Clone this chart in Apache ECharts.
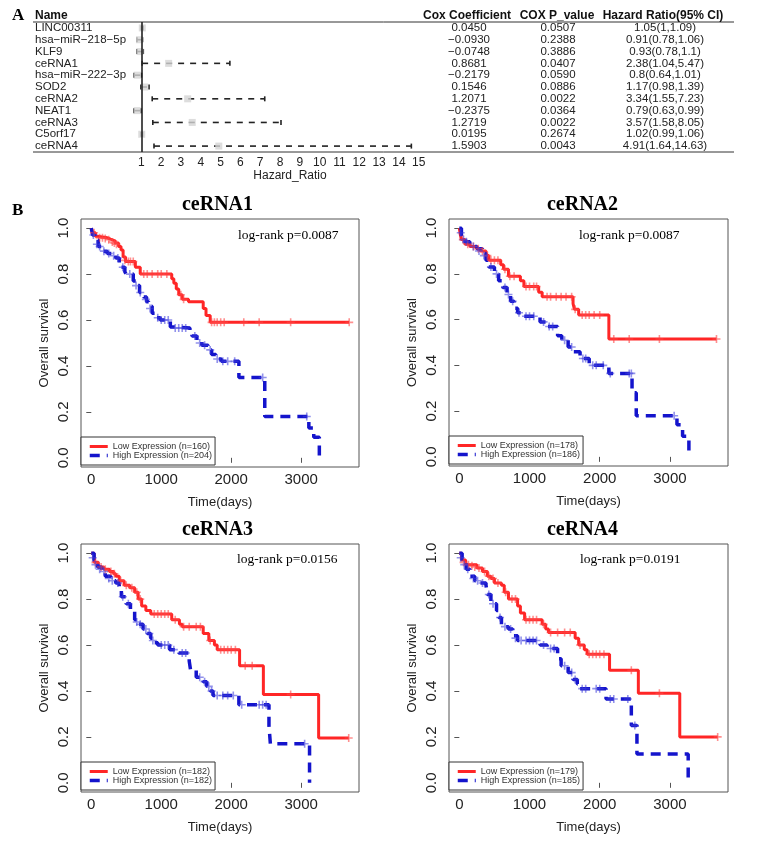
<!DOCTYPE html>
<html>
<head>
<meta charset="utf-8">
<script src="https://cdn.jsdelivr.net/npm/echarts@6/dist/echarts.min.js"></script>
<style>
  html, body { margin: 0; padding: 0; background: #fff; }
  #chart { width: 760px; height: 845px; }
</style>
</head>
<body>
<div id="chart"></div>
<script>
/* A: 多因素 Cox 森林图 */
const geneNames = ['LINC00311', 'hsa−miR−218−5p', 'KLF9', 'ceRNA1', 'hsa−miR−222−3p', 'SOD2', 'ceRNA2', 'NEAT1', 'ceRNA3', 'C5orf17', 'ceRNA4'];
const coxCoef = ['0.0450', '−0.0930', '−0.0748', '0.8681', '−0.2179', '0.1546', '1.2071', '−0.2375', '1.2719', '0.0195', '1.5903'];
const coxP = ['0.0507', '0.2388', '0.3886', '0.0407', '0.0590', '0.0886', '0.0022', '0.0364', '0.0022', '0.2674', '0.0043'];
const hrText = ['1.05(1,1.09)', '0.91(0.78,1.06)', '0.93(0.78,1.1)', '2.38(1.04,5.47)', '0.8(0.64,1.01)', '1.17(0.98,1.39)', '3.34(1.55,7.23)', '0.79(0.63,0.99)', '3.57(1.58,8.05)', '1.02(0.99,1.06)', '4.91(1.64,14.63)'];
const hrValue = [1.05, 0.91, 0.93, 2.38, 0.8, 1.17, 3.34, 0.79, 3.57, 1.02, 4.91];
const ciLow = [1, 0.78, 0.78, 1.04, 0.64, 0.98, 1.55, 0.63, 1.58, 0.99, 1.64];
const ciHigh = [1.09, 1.06, 1.1, 5.47, 1.01, 1.39, 7.23, 0.99, 8.05, 1.06, 14.63];
const hrTicks = [1, 2, 3, 4, 5, 6, 7, 8, 9, 10, 11, 12, 13, 14, 15];

/* B: KM 生存曲线  [time, survival] */
const timeTicks = [0, 1000, 2000, 3000];
const survTicks = [0, 0.2, 0.4, 0.6, 0.8, 1.0];
const panelTitles = ['ceRNA1', 'ceRNA2', 'ceRNA3', 'ceRNA4'];
const logRankText = ['log-rank p=0.0087', 'log-rank p=0.0087', 'log-rank p=0.0156', 'log-rank p=0.0191'];
const lowNames = ['Low Expression (n=160)', 'Low Expression (n=178)', 'Low Expression (n=182)', 'Low Expression (n=179)'];
const highNames = ['High Expression (n=204)', 'High Expression (n=186)', 'High Expression (n=182)', 'High Expression (n=185)'];

const km1Low = [[0,1],[20,0.98],[60,0.965],[90,0.958],[230,0.952],[275,0.945],[340,0.935],[390,0.92],[425,0.905],[455,0.875],[490,0.855],[630,0.83],[700,0.8],[1150,0.78],[1180,0.76],[1215,0.735],[1250,0.71],[1300,0.69],[1390,0.68],[1600,0.65],[1640,0.62],[1700,0.59],[3687,0.59]];
const km1High = [[0,1],[20,0.97],[50,0.95],[100,0.92],[150,0.9],[230,0.89],[290,0.88],[350,0.87],[400,0.85],[430,0.83],[480,0.81],[500,0.8],[600,0.77],[650,0.75],[690,0.72],[750,0.7],[790,0.68],[820,0.66],[870,0.63],[915,0.61],[985,0.6],[1130,0.57],[1175,0.565],[1410,0.54],[1440,0.53],[1510,0.51],[1580,0.49],[1670,0.47],[1720,0.45],[1780,0.43],[1860,0.42],[2110,0.35],[2480,0.18],[3110,0.13],[3180,0.09],[3260,0]];
const km1LowCens = [[40,0.98],[120,0.958],[160,0.958],[200,0.955],[250,0.95],[300,0.94],[330,0.935],[360,0.93],[480,0.86],[530,0.855],[560,0.855],[600,0.855],[750,0.8],[800,0.8],[870,0.8],[950,0.8],[1000,0.8],[1080,0.8],[1280,0.71],[1320,0.69],[1720,0.59],[1760,0.59],[1800,0.59],[1850,0.59],[1900,0.59],[2180,0.59],[2400,0.59],[2850,0.59],[3687,0.59]];
const km1HighCens = [[30,0.97],[80,0.93],[120,0.92],[180,0.9],[250,0.89],[320,0.88],[380,0.87],[450,0.83],[550,0.8],[640,0.75],[700,0.72],[780,0.69],[840,0.65],[950,0.61],[1000,0.6],[1050,0.6],[1100,0.6],[1200,0.565],[1250,0.565],[1300,0.565],[1350,0.565],[1480,0.53],[1550,0.5],[1620,0.49],[1700,0.47],[1800,0.43],[1880,0.42],[1950,0.42],[2050,0.42],[2450,0.35],[3080,0.18]];

const km2Low = [[0,1],[15,0.97],[30,0.95],[80,0.93],[150,0.92],[250,0.91],[300,0.9],[380,0.88],[420,0.86],[590,0.84],[630,0.82],[700,0.79],[870,0.77],[920,0.745],[1130,0.72],[1180,0.7],[1620,0.67],[1640,0.645],[1700,0.62],[2130,0.515],[3663,0.515]];
const km2High = [[0,1],[30,0.96],[80,0.94],[150,0.92],[250,0.91],[330,0.89],[380,0.86],[420,0.83],[500,0.8],[560,0.77],[620,0.74],[680,0.71],[730,0.68],[780,0.65],[830,0.63],[900,0.615],[1150,0.59],[1250,0.57],[1400,0.53],[1460,0.51],[1550,0.48],[1620,0.46],[1720,0.43],[1850,0.4],[2130,0.365],[2460,0.28],[2520,0.18],[3100,0.14],[3180,0.09],[3270,0]];
const km2LowCens = [[50,0.95],[120,0.93],[200,0.92],[270,0.91],[330,0.9],[400,0.88],[450,0.86],[500,0.86],[550,0.86],[650,0.82],[720,0.79],[780,0.79],[950,0.745],[1000,0.745],[1060,0.745],[1100,0.745],[1250,0.7],[1300,0.7],[1380,0.7],[1450,0.7],[1520,0.7],[1600,0.7],[1650,0.645],[1750,0.62],[1800,0.62],[1850,0.62],[1920,0.62],[2000,0.62],[2200,0.515],[2420,0.515],[2850,0.515],[3663,0.515]];
const km2HighCens = [[20,0.98],[60,0.95],[100,0.94],[200,0.92],[280,0.9],[350,0.88],[450,0.83],[530,0.8],[650,0.74],[700,0.71],[760,0.68],[850,0.63],[950,0.615],[1000,0.615],[1060,0.615],[1200,0.59],[1280,0.57],[1330,0.57],[1500,0.51],[1600,0.48],[1760,0.43],[1800,0.43],[1900,0.4],[1950,0.4],[2050,0.4],[2150,0.365],[2420,0.365],[2450,0.365],[3060,0.18]];

const km3Low = [[0,1],[40,0.96],[100,0.94],[180,0.93],[260,0.92],[320,0.91],[350,0.9],[400,0.88],[470,0.86],[550,0.85],[620,0.83],[670,0.8],[720,0.77],[780,0.75],[850,0.735],[1150,0.71],[1260,0.69],[1300,0.68],[1600,0.65],[1680,0.62],[1760,0.6],[1800,0.58],[2120,0.51],[2460,0.385],[3250,0.195],[3680,0.195]];
const km3High = [[0,1],[40,0.97],[90,0.94],[150,0.92],[200,0.9],[280,0.88],[350,0.87],[400,0.84],[430,0.81],[500,0.78],[560,0.75],[620,0.71],[680,0.69],[740,0.67],[800,0.65],[850,0.63],[900,0.61],[950,0.6],[1120,0.58],[1250,0.565],[1400,0.53],[1420,0.49],[1500,0.46],[1600,0.44],[1650,0.42],[1700,0.4],[1740,0.38],[2110,0.34],[2540,0.25],[2560,0.17],[3120,0]];
const km3LowCens = [[60,0.96],[140,0.94],[200,0.93],[280,0.92],[330,0.91],[420,0.88],[500,0.86],[580,0.85],[650,0.83],[700,0.8],[900,0.735],[950,0.735],[1000,0.735],[1050,0.735],[1100,0.735],[1200,0.71],[1320,0.68],[1400,0.68],[1500,0.68],[1560,0.68],[1700,0.62],[1850,0.58],[1900,0.58],[1950,0.58],[2000,0.58],[2060,0.58],[2200,0.51],[2300,0.51],[2850,0.385],[3680,0.195]];
const km3HighCens = [[20,0.98],[60,0.95],[120,0.93],[180,0.92],[250,0.89],[300,0.88],[380,0.87],[450,0.81],[530,0.78],[650,0.7],[700,0.69],[780,0.67],[830,0.65],[880,0.62],[1000,0.6],[1050,0.6],[1100,0.6],[1180,0.58],[1300,0.565],[1350,0.565],[1550,0.46],[1620,0.44],[1680,0.42],[1720,0.4],[1800,0.38],[1880,0.38],[1950,0.38],[2030,0.38],[2150,0.34],[2400,0.34],[2450,0.34],[2500,0.34],[3050,0.17]];

const km4Low = [[0,1],[30,0.97],[90,0.95],[250,0.935],[330,0.92],[400,0.9],[450,0.89],[500,0.87],[600,0.86],[640,0.83],[700,0.8],[830,0.77],[870,0.74],[930,0.71],[1180,0.69],[1230,0.67],[1270,0.655],[1650,0.63],[1700,0.6],[1780,0.58],[1820,0.56],[2140,0.49],[2550,0.39],[3140,0.2],[3680,0.2]];
const km4High = [[0,1],[40,0.96],[100,0.93],[150,0.9],[220,0.88],[300,0.87],[380,0.86],[400,0.82],[450,0.78],[530,0.75],[560,0.72],[600,0.68],[700,0.67],[760,0.64],[830,0.62],[1150,0.6],[1250,0.585],[1400,0.54],[1450,0.51],[1550,0.48],[1620,0.45],[1680,0.43],[1720,0.41],[2090,0.365],[2450,0.25],[2530,0.125],[3260,0]];
const km4LowCens = [[60,0.96],[130,0.95],[180,0.945],[220,0.94],[280,0.935],[360,0.92],[420,0.9],[480,0.89],[550,0.87],[660,0.83],[750,0.8],[800,0.8],[950,0.71],[1000,0.71],[1050,0.71],[1100,0.71],[1200,0.69],[1300,0.655],[1400,0.655],[1500,0.655],[1580,0.655],[1720,0.6],[1850,0.56],[1900,0.56],[1950,0.56],[2000,0.56],[2060,0.56],[2450,0.49],[2850,0.39],[3680,0.2]];
const km4HighCens = [[20,0.98],[70,0.95],[120,0.93],[200,0.89],[260,0.88],[330,0.87],[420,0.82],[480,0.78],[580,0.72],[650,0.68],[730,0.67],[800,0.63],[880,0.62],[950,0.62],[1000,0.62],[1050,0.62],[1100,0.62],[1200,0.6],[1300,0.585],[1350,0.585],[1500,0.51],[1600,0.48],[1650,0.45],[1750,0.41],[1800,0.41],[1950,0.41],[2000,0.41],[2150,0.365],[2200,0.365],[2400,0.365],[2500,0.25]];

const lowCurves = [km1Low, km2Low, km3Low, km4Low];
const highCurves = [km1High, km2High, km3High, km4High];
const lowCensors = [km1LowCens, km2LowCens, km3LowCens, km4LowCens];
const highCensors = [km1HighCens, km2HighCens, km3HighCens, km4HighCens];

// ---- 样式 ----
const SANS = "'Liberation Sans', Arial, sans-serif";
const SERIF = "'Liberation Serif', 'Times New Roman', serif";
const RED = '#FF2626';
const BLUE = '#1414CC';
const PLUS = 'path://M4,0L6,0L6,4L10,4L10,6L6,6L6,10L4,10L4,6L0,6L0,4L4,4Z';

// 四个 KM 面板的绘图区 [left, top, width, height]
const kmBoxes = [[81, 219, 278, 248], [449, 219, 279, 247], [81, 544, 278, 248], [449, 544, 279, 248]];
const titlePos = [[217.5, 205], [582.5, 205], [217.5, 530], [582.5, 530]];
const logRankPos = [[238, 235], [579, 235], [237, 559], [580, 559]];

// 森林图绘图区
const FOREST = { left: 121.5, top: 22, width: 317, height: 130 };

function renderCI(params, api) {
  const row = api.value(0);
  const p0 = api.coord([api.value(1), row]);
  const p1 = api.coord([api.value(2), row]);
  const st = { stroke: '#222', lineWidth: 1.6 };
  return {
    type: 'group',
    children: [
      { type: 'line', shape: { x1: p0[0], y1: p0[1], x2: p1[0], y2: p1[1] }, style: Object.assign({ lineDash: [6, 6] }, st) },
      { type: 'line', shape: { x1: p0[0], y1: p0[1] - 2.5, x2: p0[0], y2: p0[1] + 2.5 }, style: st },
      { type: 'line', shape: { x1: p1[0], y1: p1[1] - 2.5, x2: p1[0], y2: p1[1] + 2.5 }, style: st }
    ]
  };
}

const chart = echarts.init(document.getElementById('chart'), null, { renderer: 'canvas' });

const grids = [Object.assign({ show: false }, FOREST)];
const xAxes = [{
  gridIndex: 0, type: 'value', min: 0, max: 16,
  axisLine: { show: false },
  splitLine: { show: false },
  axisTick: { customValues: hrTicks, length: 4, lineStyle: { color: '#333' } },
  axisLabel: { customValues: hrTicks, fontSize: 12, fontFamily: SANS, color: '#222', margin: 5 },
  name: 'Hazard_Ratio', nameLocation: 'middle', nameGap: 16,
  nameTextStyle: { fontSize: 12, fontFamily: SANS, color: '#222', padding: [0, 0, 0, 20] }
}];

const catBase = {
  gridIndex: 0, type: 'category', inverse: true, data: geneNames,
  axisLine: { show: false }, axisTick: { show: false }, splitLine: { show: false }
};
const colLabel = { interval: 0, align: 'center', fontSize: 11.5, fontFamily: SANS, color: '#222' };
const yAxes = [
  Object.assign({}, catBase, { position: 'left',
    axisLabel: { interval: 0, align: 'left', margin: FOREST.left - 35, fontSize: 11.5, fontFamily: SANS, color: '#222' } }),
  Object.assign({}, catBase, { position: 'right',
    axisLabel: Object.assign({ margin: 30.5, formatter: (v, i) => coxCoef[i] }, colLabel) }),
  Object.assign({}, catBase, { position: 'right',
    axisLabel: Object.assign({ margin: 119.5, formatter: (v, i) => coxP[i] }, colLabel) }),
  Object.assign({}, catBase, { position: 'right',
    axisLabel: Object.assign({ margin: 226.5, formatter: (v, i) => hrText[i] }, colLabel) })
];

const series = [
  {
    type: 'custom', xAxisIndex: 0, yAxisIndex: 0,
    renderItem: renderCI,
    encode: { x: [1, 2], y: 0 },
    data: geneNames.map((n, i) => [i, ciLow[i], ciHigh[i]]),
    z: 3
  },
  {
    type: 'scatter', xAxisIndex: 0, yAxisIndex: 0,
    symbol: 'rect', symbolSize: 7,
    itemStyle: { color: '#d4d4d4' },
    data: geneNames.map((n, i) => [hrValue[i], i]),
    z: 4,
    markLine: {
      silent: true, symbol: 'none', label: { show: false },
      lineStyle: { color: '#222', width: 1.6, type: 'solid' },
      data: [{ xAxis: 1 }]
    }
  }
];

const legends = [];
const graphics = [
  { type: 'line', shape: { x1: 33, y1: 22, x2: 734, y2: 22 }, style: { stroke: '#333', lineWidth: 1 } },
  { type: 'line', shape: { x1: 33, y1: 152, x2: 734, y2: 152 }, style: { stroke: '#333', lineWidth: 1 } },
  { type: 'text', x: 12, y: 16, style: { text: 'A', font: 'bold 17px ' + SERIF, fill: '#000', verticalAlign: 'middle' } },
  { type: 'text', x: 12, y: 211, style: { text: 'B', font: 'bold 17px ' + SERIF, fill: '#000', verticalAlign: 'middle' } },
  { type: 'text', x: 35, y: 16, style: { text: 'Name', font: 'bold 12px ' + SANS, fill: '#111', verticalAlign: 'middle' } },
  { type: 'text', x: 467, y: 16, style: { text: 'Cox Coefficient', font: 'bold 12px ' + SANS, fill: '#111', align: 'center', verticalAlign: 'middle' } },
  { type: 'text', x: 557, y: 16, style: { text: 'COX P_value', font: 'bold 12px ' + SANS, fill: '#111', align: 'center', verticalAlign: 'middle' } },
  { type: 'text', x: 663, y: 16, style: { text: 'Hazard Ratio(95% CI)', font: 'bold 12px ' + SANS, fill: '#111', align: 'center', verticalAlign: 'middle' } }
];

kmBoxes.forEach((b, k) => {
  const gi = k + 1;
  grids.push({ left: b[0], top: b[1], width: b[2], height: b[3], show: true, borderColor: '#555', borderWidth: 1, backgroundColor: 'transparent' });
  xAxes.push({
    gridIndex: gi, type: 'value', min: -147, max: 3827,
    axisLine: { show: false }, splitLine: { show: false },
    axisTick: { customValues: timeTicks, length: 5, lineStyle: { color: '#555' } },
    axisLabel: { customValues: timeTicks, fontSize: 15, fontFamily: SANS, color: '#222', margin: 5,
      formatter: v => String(v) },
    name: 'Time(days)', nameLocation: 'middle', nameGap: 29,
    nameTextStyle: { fontSize: 13, fontFamily: SANS, color: '#222' }
  });
  yAxes.push({
    gridIndex: gi, type: 'value', min: -0.04, max: 1.04,
    axisLine: { show: false }, splitLine: { show: false },
    axisTick: { customValues: survTicks, length: 5, lineStyle: { color: '#555' } },
    axisLabel: { customValues: survTicks, rotate: 90, fontSize: 15, fontFamily: SANS, color: '#222', margin: 10,
      formatter: v => v.toFixed(1) },
    name: 'Overall survival', nameLocation: 'middle', nameGap: 30,
    nameTextStyle: { fontSize: 13, fontFamily: SANS, color: '#222' }
  });
  const yi = 4 + k;
  series.push(
    { type: 'line', name: lowNames[k], xAxisIndex: gi, yAxisIndex: yi, step: 'end',
      symbol: 'none', showSymbol: false,
      lineStyle: { color: RED, width: 3 }, itemStyle: { color: RED }, data: lowCurves[k], z: 3 },
    { type: 'line', name: highNames[k], xAxisIndex: gi, yAxisIndex: yi, step: 'end',
      symbol: 'none', showSymbol: false,
      lineStyle: { color: BLUE, width: 3.5, type: [10, 7] }, itemStyle: { color: BLUE }, data: highCurves[k], z: 3 },
    { type: 'scatter', xAxisIndex: gi, yAxisIndex: yi, symbol: PLUS, symbolSize: 8,
      itemStyle: { color: 'rgba(255,70,70,0.75)' }, data: lowCensors[k], z: 4 },
    { type: 'scatter', xAxisIndex: gi, yAxisIndex: yi, symbol: PLUS, symbolSize: 8,
      itemStyle: { color: 'rgba(60,60,220,0.7)' }, data: highCensors[k], z: 4 }
  );
  legends.push({
    left: b[0], top: b[1] + b[3] - 30, orient: 'vertical',
    itemWidth: 18, itemHeight: 10, itemGap: 0, padding: [5, 3, 5, 7],
    borderColor: '#333', borderWidth: 1, borderRadius: 0, backgroundColor: '#fff',
    selectedMode: false,
    itemStyle: { opacity: 0 },
    lineStyle: { width: 'inherit' },
    textStyle: { fontSize: 9, fontFamily: SANS, color: '#333' },
    data: [lowNames[k], highNames[k]]
  });
  graphics.push(
    { type: 'text', x: titlePos[k][0], y: titlePos[k][1],
      style: { text: panelTitles[k], font: 'bold 20px ' + SERIF, fill: '#000', align: 'center', verticalAlign: 'middle' } },
    { type: 'text', x: logRankPos[k][0], y: logRankPos[k][1],
      style: { text: logRankText[k], font: '13.5px ' + SERIF, fill: '#000', verticalAlign: 'middle' } }
  );
});

chart.setOption({
  animation: false,
  backgroundColor: '#fff',
  grid: grids,
  xAxis: xAxes,
  yAxis: yAxes,
  legend: legends,
  graphic: graphics,
  series: series
});

window.addEventListener('resize', () => chart.resize());
</script>
</body>
</html>
